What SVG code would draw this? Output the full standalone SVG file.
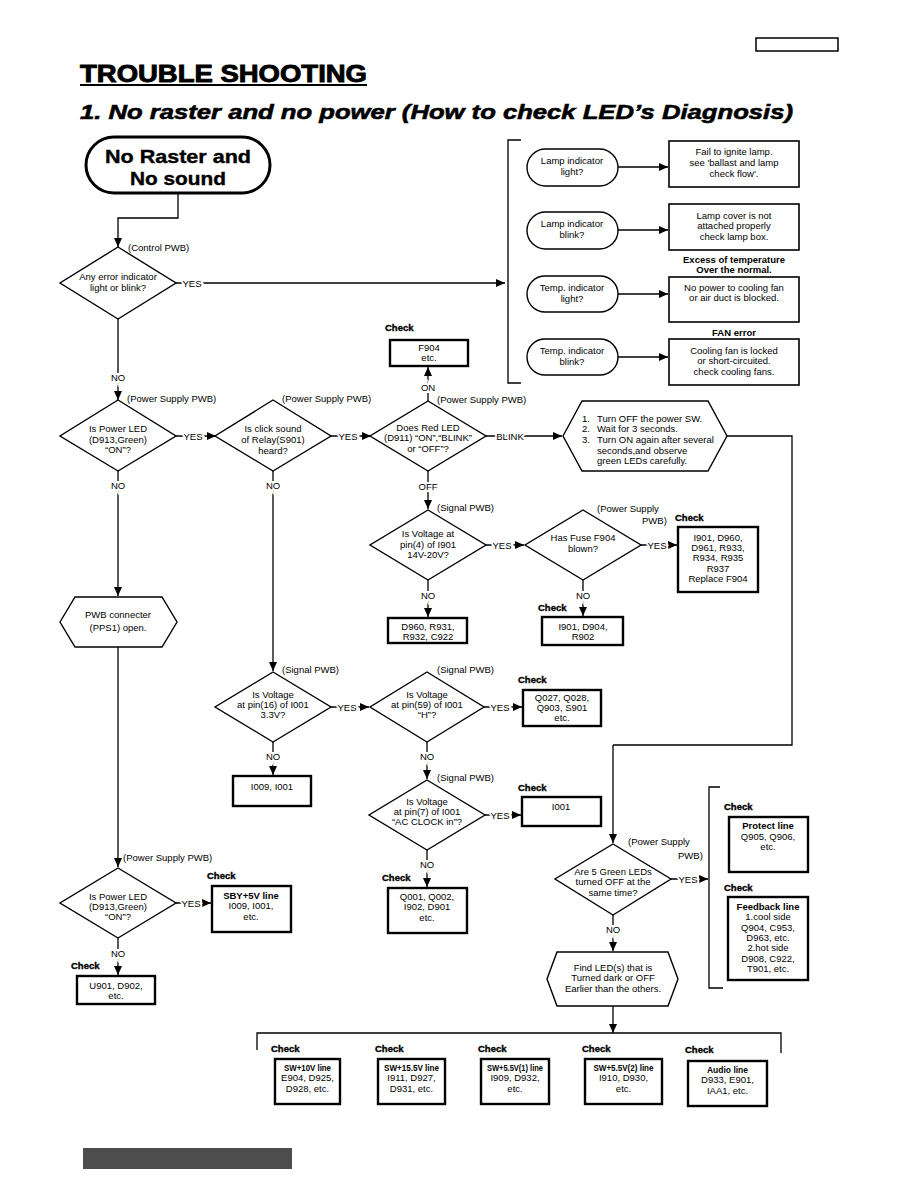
<svg xmlns="http://www.w3.org/2000/svg" width="918" height="1188" viewBox="0 0 918 1188">
<defs>
<marker id="ah" markerUnits="userSpaceOnUse" markerWidth="10" markerHeight="8" refX="9" refY="4" orient="auto"><path d="M0,0 L9,4 L0,8 z" fill="#000"/></marker>
<style>
text{font-family:"Liberation Sans",Arial,sans-serif;fill:#000}
.t{font-size:9.5px;text-anchor:middle}
.l{font-size:9.5px;text-anchor:start}
.b{font-weight:bold}
.ck{font-size:9.5px;font-weight:bold;text-anchor:start;stroke:#000;stroke-width:0.35px}
.lbl{font-size:9.5px;text-anchor:middle;paint-order:stroke;stroke:#fff;stroke-width:4px}
.big{font-size:19px;font-weight:bold;text-anchor:middle;stroke:#000;stroke-width:0.4px}
.sm{font-size:8.5px;font-weight:bold;text-anchor:middle}
.ln{fill:none;stroke:#000;stroke-width:1.3}
.ar{fill:none;stroke:#000;stroke-width:1.3;marker-end:url(#ah)}
.dia{fill:#fff;stroke:#000;stroke-width:1.4}
.bx{fill:#fff;stroke:#000;stroke-width:2.4}
.bt{fill:#fff;stroke:#000;stroke-width:1.6}
.st{fill:#fff;stroke:#000;stroke-width:1.4}
</style>
</defs>
<rect width="918" height="1188" fill="#fff"/>
<rect x="756" y="38" width="82" height="13" fill="none" stroke="#000" stroke-width="1.5"/>
<text x="80" y="82" style="font-size:24px;font-weight:bold" stroke="#000" stroke-width="0.9" textLength="287" lengthAdjust="spacingAndGlyphs">TROUBLE SHOOTING</text>
<line x1="80" y1="85" x2="367" y2="85" stroke="#000" stroke-width="2.2"/>
<text x="80" y="119" style="font-size:21px;font-weight:bold;font-style:italic" stroke="#000" stroke-width="0.6" textLength="713" lengthAdjust="spacingAndGlyphs">1. No raster and no power (How to check LED’s Diagnosis)</text>
<rect x="83" y="1148" width="209" height="21" fill="#4d4d4d"/>

<g id="connectors">
<path class="ar" d="M178,193 V218 H118 V247"/>
<path class="ar" d="M176,283 H505"/>
<path class="ln" d="M521,140 H508 V383 H521"/>
<path class="ar" d="M618,167 H668"/>
<path class="ar" d="M618,230 H668"/>
<path class="ar" d="M618,294 H668"/>
<path class="ar" d="M618,357 H668"/>
<path class="ar" d="M118,319 V400"/>
<path class="ar" d="M176,436 H216"/>
<path class="ar" d="M331,436 H371"/>
<path class="ar" d="M428,401 V367"/>
<path class="ar" d="M486,436 H562"/>
<path class="ar" d="M428,471 V509"/>
<path class="ln" d="M727,436 H792 V745 H613"/>
<path class="ar" d="M613,745 V843"/>
<path class="ar" d="M486,545 H524"/>
<path class="ar" d="M641,545 H677"/>
<path class="ar" d="M428,580 V617"/>
<path class="ar" d="M583,580 V616"/>
<path class="ar" d="M118,471 V596"/>
<path class="ar" d="M118,647 V867"/>
<path class="ar" d="M273,471 V671"/>
<path class="ar" d="M331,707 H369"/>
<path class="ar" d="M484,707 H522"/>
<path class="ar" d="M273,742 V775"/>
<path class="ar" d="M427,742 V779"/>
<path class="ar" d="M485,815 H521"/>
<path class="ar" d="M427,850 V887"/>
<path class="ar" d="M176,903 H211"/>
<path class="ar" d="M118,938 V975"/>
<path class="ar" d="M671,879 H708"/>
<path class="ln" d="M720,787 H709 V988 H723"/>
<path class="ar" d="M613,915 V951"/>
<path class="ar" d="M613,1006 V1033"/>
<path class="ln" d="M257,1050 V1033 H781 V1053"/>
<text class="lbl" x="192" y="287">YES</text>
<text class="lbl" x="118" y="381">NO</text>
<text class="lbl" x="193" y="440">YES</text>
<text class="lbl" x="348" y="440">YES</text>
<text class="lbl" x="428" y="391">ON</text>
<text class="lbl" x="510" y="440">BLINK</text>
<text class="lbl" x="428" y="490">OFF</text>
<text class="lbl" x="502" y="549">YES</text>
<text class="lbl" x="657" y="549">YES</text>
<text class="lbl" x="428" y="599">NO</text>
<text class="lbl" x="583" y="599">NO</text>
<text class="lbl" x="118" y="489">NO</text>
<text class="lbl" x="273" y="489">NO</text>
<text class="lbl" x="347" y="711">YES</text>
<text class="lbl" x="500" y="711">YES</text>
<text class="lbl" x="273" y="760">NO</text>
<text class="lbl" x="427" y="760">NO</text>
<text class="lbl" x="500" y="819">YES</text>
<text class="lbl" x="427" y="868">NO</text>
<text class="lbl" x="191" y="907">YES</text>
<text class="lbl" x="118" y="957">NO</text>
<text class="lbl" x="688" y="883">YES</text>
<text class="lbl" x="613" y="933">NO</text>
</g>

<g id="start">
<rect x="86" y="137" width="184" height="56" rx="28" fill="#fff" stroke="#000" stroke-width="3"/>
<text class="big" x="178" y="163" textLength="146" lengthAdjust="spacingAndGlyphs">No Raster and</text>
<text class="big" x="178" y="185" textLength="96" lengthAdjust="spacingAndGlyphs">No sound</text>
</g>

<g id="d1">
<polygon class="dia" points="118,247 176,283 118,319 60,283"/>
<text class="l" x="128" y="251">(Control PWB)</text>
<text class="t" x="118" y="280">Any error indicator</text>
<text class="t" x="118" y="291">light or blink?</text>
</g>

<g id="lamp1"><rect class="st" x="527" y="149" width="91" height="37" rx="18.5"/><text class="t" x="572" y="164">Lamp indicator</text><text class="t" x="572" y="175">light?</text></g>
<g id="lamp2"><rect class="st" x="527" y="212" width="91" height="37" rx="18.5"/><text class="t" x="572" y="227">Lamp indicator</text><text class="t" x="572" y="238">blink?</text></g>
<g id="temp1"><rect class="st" x="527" y="276" width="91" height="36" rx="18"/><text class="t" x="572" y="291">Temp. indicator</text><text class="t" x="572" y="302">light?</text></g>
<g id="temp2"><rect class="st" x="527" y="339" width="91" height="36" rx="18"/><text class="t" x="572" y="354">Temp. indicator</text><text class="t" x="572" y="365">blink?</text></g>

<g id="r1"><rect class="bt" x="669" y="141" width="130" height="46"/><text class="t" x="734" y="155">Fail to ignite lamp.</text><text class="t" x="734" y="166">see 'ballast and lamp</text><text class="t" x="734" y="177">check flow'.</text></g>
<g id="r2"><rect class="bt" x="669" y="204" width="130" height="46"/><text class="t" x="734" y="219">Lamp cover is not</text><text class="t" x="734" y="229">attached properly</text><text class="t" x="734" y="240">check lamp box.</text></g>
<g id="r3"><text class="t b" x="734" y="263">Excess of temperature</text><text class="t b" x="734" y="273">Over the normal.</text><rect class="bt" x="669" y="277" width="130" height="45"/><text class="t" x="734" y="291">No power to cooling fan</text><text class="t" x="734" y="301">or air duct is blocked.</text></g>
<g id="r4"><text class="t b" x="734" y="336">FAN error</text><rect class="bt" x="669" y="339" width="130" height="46"/><text class="t" x="734" y="354">Cooling fan is locked</text><text class="t" x="734" y="364">or short-circuited.</text><text class="t" x="734" y="375">check cooling fans.</text></g>

<g id="d2">
<polygon class="dia" points="118,400 176,436 118,471 60,436"/>
<text class="l" x="127" y="402">(Power Supply PWB)</text>
<text class="t" x="118" y="432">Is Power LED</text>
<text class="t" x="118" y="443">(D913,Green)</text>
<text class="t" x="118" y="453">“ON”?</text>
</g>
<g id="d3">
<polygon class="dia" points="273,400 331,436 273,471 215,436"/>
<text class="l" x="282" y="402">(Power Supply PWB)</text>
<text class="t" x="273" y="432">Is click sound</text>
<text class="t" x="273" y="443">of Relay(S901)</text>
<text class="t" x="273" y="454">heard?</text>
</g>
<g id="d4">
<polygon class="dia" points="428,401 486,436 428,471 370,436"/>
<text class="l" x="437" y="403">(Power Supply PWB)</text>
<text class="t" x="428" y="431">Does Red LED</text>
<text class="t" x="428" y="441">(D911) “ON”,“BLINK”</text>
<text class="t" x="428" y="452">or “OFF”?</text>
</g>
<g id="f904">
<text class="ck" x="385" y="331">Check</text>
<rect class="bx" x="390" y="340" width="78" height="26"/>
<text class="t" x="429" y="351">F904</text>
<text class="t" x="429" y="361">etc.</text>
</g>
<g id="hex1">
<polygon class="st" points="563,436 582,401 708,401 727,436 708,471 582,471"/>
<text class="l" x="582" y="422">1.</text><text class="l" x="597" y="422">Turn OFF the power SW.</text>
<text class="l" x="582" y="432">2.</text><text class="l" x="597" y="432">Wait for 3 seconds.</text>
<text class="l" x="582" y="443">3.</text><text class="l" x="597" y="443">Turn ON again after several</text>
<text class="l" x="597" y="454">seconds,and observe</text>
<text class="l" x="597" y="464">green LEDs carefully.</text>
</g>

<g id="d5">
<polygon class="dia" points="428,510 486,545 428,580 370,545"/>
<text class="l" x="437" y="511">(Signal PWB)</text>
<text class="t" x="428" y="537">Is Voltage at</text>
<text class="t" x="428" y="548">pin(4) of I901</text>
<text class="t" x="428" y="558">14V-20V?</text>
</g>
<g id="d6">
<polygon class="dia" points="583,510 641,545 583,580 525,545"/>
<text class="l" x="597" y="512">(Power Supply</text>
<text class="l" x="642" y="524">PWB)</text>
<text class="t" x="583" y="541">Has Fuse F904</text>
<text class="t" x="583" y="552">blown?</text>
</g>
<g id="c1">
<text class="ck" x="675" y="521">Check</text>
<rect class="bx" x="678" y="527" width="80" height="65"/>
<text class="t" x="718" y="541">I901, D960,</text>
<text class="t" x="718" y="551">D961, R933,</text>
<text class="t" x="718" y="561">R934, R935</text>
<text class="t" x="718" y="572">R937</text>
<text class="t" x="718" y="582">Replace F904</text>
</g>
<g id="c2">
<rect class="bx" x="388" y="618" width="79" height="25"/>
<text class="t" x="428" y="630">D960, R931,</text>
<text class="t" x="428" y="640">R932, C922</text>
</g>
<g id="c3">
<text class="ck" x="538" y="611">Check</text>
<rect class="bx" x="542" y="617" width="81" height="28"/>
<text class="t" x="583" y="630">I901, D904,</text>
<text class="t" x="583" y="640">R902</text>
</g>

<g id="hex2">
<polygon class="st" points="60,622 75,597 162,597 177,622 162,647 75,647"/>
<text class="t" x="118" y="618">PWB connecter</text>
<text class="t" x="118" y="631">(PPS1) open.</text>
</g>

<g id="d7">
<polygon class="dia" points="273,672 331,707 273,742 215,707"/>
<text class="l" x="282" y="673">(Signal PWB)</text>
<text class="t" x="273" y="698">Is Voltage</text>
<text class="t" x="273" y="708">at pin(16) of I001</text>
<text class="t" x="273" y="718">3.3V?</text>
</g>
<g id="d8">
<polygon class="dia" points="427,672 484,707 427,742 370,707"/>
<text class="l" x="437" y="673">(Signal PWB)</text>
<text class="t" x="427" y="698">Is Voltage</text>
<text class="t" x="427" y="708">at pin(59) of I001</text>
<text class="t" x="427" y="718">“H”?</text>
</g>
<g id="c4">
<text class="ck" x="518" y="683">Check</text>
<rect class="bx" x="523" y="690" width="78" height="36"/>
<text class="t" x="562" y="701">Q027, Q028,</text>
<text class="t" x="562" y="711">Q903, S901</text>
<text class="t" x="562" y="721">etc.</text>
</g>
<g id="c5">
<rect class="bx" x="233" y="776" width="78" height="30"/>
<text class="t" x="272" y="790">I009, I001</text>
</g>
<g id="d9">
<polygon class="dia" points="427,780 485,815 427,850 369,815"/>
<text class="l" x="437" y="781">(Signal PWB)</text>
<text class="t" x="427" y="805">Is Voltage</text>
<text class="t" x="427" y="815">at pin(7) of I001</text>
<text class="t" x="427" y="825">“AC CLOCK in”?</text>
</g>
<g id="c6">
<text class="ck" x="518" y="791">Check</text>
<rect class="bx" x="522" y="797" width="79" height="29"/>
<text class="t" x="561" y="810">I001</text>
</g>
<g id="c7">
<text class="ck" x="382" y="881">Check</text>
<rect class="bx" x="388" y="888" width="79" height="45"/>
<text class="t" x="427" y="900">Q001, Q002,</text>
<text class="t" x="427" y="910">I902, D901</text>
<text class="t" x="427" y="921">etc.</text>
</g>

<g id="d10">
<polygon class="dia" points="118,868 176,903 118,938 60,903"/>
<text class="l" x="123" y="861">(Power Supply PWB)</text>
<text class="t" x="118" y="900">Is Power LED</text>
<text class="t" x="118" y="910">(D913,Green)</text>
<text class="t" x="118" y="920">“ON”?</text>
</g>
<g id="c8">
<text class="ck" x="207" y="879">Check</text>
<rect class="bx" x="212" y="886" width="79" height="46"/>
<text class="t b" x="251" y="899">SBY+5V line</text>
<text class="t" x="251" y="909">I009, I001,</text>
<text class="t" x="251" y="920">etc.</text>
</g>
<g id="c9">
<text class="ck" x="71" y="969">Check</text>
<rect class="bx" x="77" y="976" width="78" height="28"/>
<text class="t" x="116" y="989">U901, D902,</text>
<text class="t" x="116" y="999">etc.</text>
</g>

<g id="d11">
<polygon class="dia" points="613,844 671,879 613,915 555,879"/>
<text class="l" x="628" y="845">(Power Supply</text>
<text class="l" x="678" y="859">PWB)</text>
<text class="t" x="613" y="875">Are 5 Green LEDs</text>
<text class="t" x="613" y="885">turned OFF at the</text>
<text class="t" x="613" y="896">same time?</text>
</g>
<g id="c10">
<text class="ck" x="724" y="810">Check</text>
<rect class="bx" x="729" y="817" width="79" height="55"/>
<text class="t b" x="768" y="829">Protect line</text>
<text class="t" x="768" y="840">Q905, Q906,</text>
<text class="t" x="768" y="850">etc.</text>
</g>
<g id="c11">
<text class="ck" x="724" y="891">Check</text>
<rect class="bx" x="728" y="897" width="80" height="83"/>
<text class="t b" x="768" y="910">Feedback line</text>
<text class="t" x="768" y="920">1.cool side</text>
<text class="t" x="768" y="931">Q904, C953,</text>
<text class="t" x="768" y="941">D963, etc.</text>
<text class="t" x="768" y="951">2.hot side</text>
<text class="t" x="768" y="962">D908, C922,</text>
<text class="t" x="768" y="972">T901, etc.</text>
</g>
<g id="hex3">
<polygon class="st" points="547,979 557,952 668,952 678,979 668,1006 557,1006"/>
<text class="t" x="613" y="971">Find LED(s) that is</text>
<text class="t" x="613" y="981">Turned dark or OFF</text>
<text class="t" x="613" y="992">Earlier than the others.</text>
</g>

<g id="b1"><text class="ck" x="271" y="1052">Check</text><rect class="bx" x="275" y="1059" width="65" height="45"/><text class="sm" x="307.5" y="1071" textLength="47" lengthAdjust="spacingAndGlyphs">SW+10V line</text><text class="t" x="307.5" y="1081">E904, D925,</text><text class="t" x="307.5" y="1092">D928, etc.</text></g>
<g id="b2"><text class="ck" x="375" y="1052">Check</text><rect class="bx" x="378" y="1059" width="67" height="45"/><text class="sm" x="411.5" y="1071" textLength="55" lengthAdjust="spacingAndGlyphs">SW+15.5V line</text><text class="t" x="411.5" y="1081">I911, D927,</text><text class="t" x="411.5" y="1092">D931, etc.</text></g>
<g id="b3"><text class="ck" x="478" y="1052">Check</text><rect class="bx" x="481" y="1059" width="68" height="45"/><text class="sm" x="515" y="1071" textLength="56" lengthAdjust="spacingAndGlyphs">SW+5.5V(1) line</text><text class="t" x="515" y="1081">I909, D932,</text><text class="t" x="515" y="1092">etc.</text></g>
<g id="b4"><text class="ck" x="582" y="1052">Check</text><rect class="bx" x="585" y="1059" width="77" height="45"/><text class="sm" x="623.5" y="1071" textLength="60" lengthAdjust="spacingAndGlyphs">SW+5.5V(2) line</text><text class="t" x="623.5" y="1081">I910, D930,</text><text class="t" x="623.5" y="1092">etc.</text></g>
<g id="b5"><text class="ck" x="685" y="1053">Check</text><rect class="bx" x="688" y="1061" width="79" height="45"/><text class="sm" x="727.5" y="1073">Audio line</text><text class="t" x="727.5" y="1083">D933, E901,</text><text class="t" x="727.5" y="1094">IAA1, etc.</text></g>
</svg>
